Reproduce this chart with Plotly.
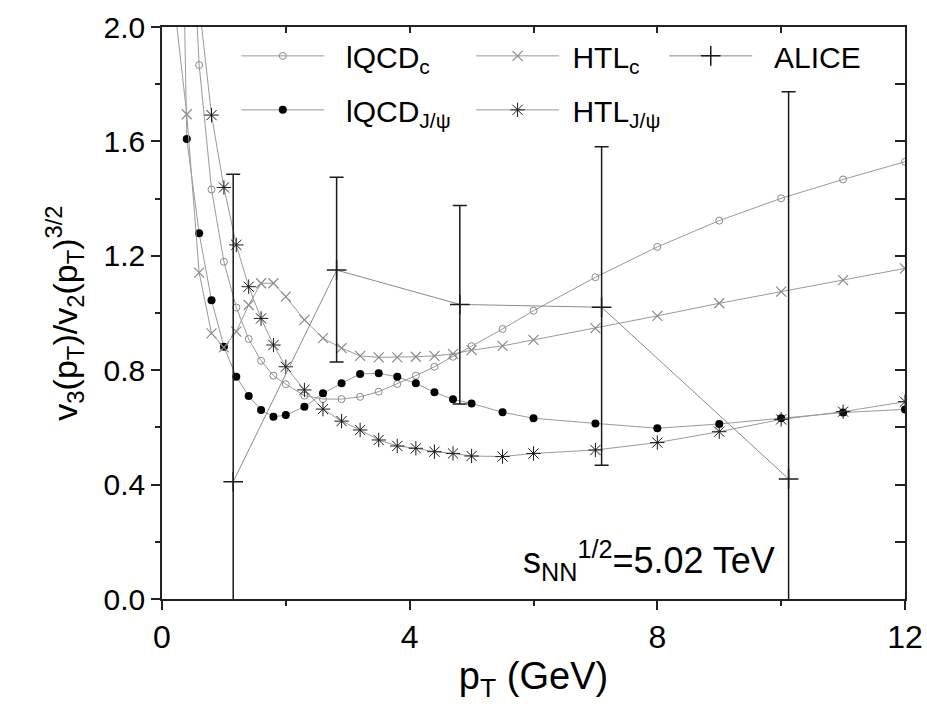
import plotly.graph_objects as go

# ---------------- data ----------------
pt = [0.2, 0.4, 0.6, 0.8, 1.0, 1.2, 1.4, 1.6, 1.8, 2.0, 2.3, 2.6, 2.9, 3.2,
      3.5, 3.8, 4.1, 4.4, 4.7, 5.0, 5.5, 6.0, 7.0, 8.0, 9.0, 10.0, 11.0, 12.0]

lqcd_c = [4.50, 2.75, 1.867, 1.432, 1.179, 1.019, 0.909, 0.833, 0.781, 0.751,
          0.711, 0.699, 0.699, 0.707, 0.725, 0.752, 0.781, 0.812, 0.847, 0.884,
          0.944, 1.008, 1.125, 1.231, 1.323, 1.401, 1.467, 1.529]

htl_c = [2.08, 1.695, 1.141, 0.929, 0.880, 0.935, 1.028, 1.104, 1.104, 1.057,
         0.976, 0.912, 0.877, 0.850, 0.845, 0.845, 0.847, 0.850, 0.857, 0.870,
         0.885, 0.906, 0.947, 0.990, 1.034, 1.075, 1.115, 1.156]

lqcd_jpsi = [4.00, 1.608, 1.279, 1.045, 0.882, 0.777, 0.710, 0.661, 0.637, 0.643,
             0.672, 0.719, 0.754, 0.787, 0.789, 0.777, 0.754, 0.723, 0.698, 0.684,
             0.653, 0.632, 0.614, 0.597, 0.612, 0.632, 0.652, 0.663]

htl_jpsi = [3.60, 2.60, 2.08, 1.692, 1.439, 1.238, 1.092, 0.981, 0.888, 0.812,
            0.731, 0.664, 0.622, 0.591, 0.556, 0.535, 0.527, 0.515, 0.509, 0.500,
            0.498, 0.509, 0.521, 0.547, 0.585, 0.628, 0.655, 0.690]

alice_pt = [1.15, 2.82, 4.81, 7.10, 10.12]
alice_ratio = [0.41, 1.15, 1.03, 1.02, 0.42]
alice_upper = [1.485, 1.475, 1.376, 1.581, 1.774]
alice_lower = [-0.30, 0.829, 0.682, 0.468, -0.25]

x_ticks = [0, 4, 8, 12]
y_ticks = [0.0, 0.4, 0.8, 1.2, 1.6, 2.0]

# ---------------- styling ----------------
FONT = "Liberation Sans, Arial, sans-serif"
LINE_GRAY = "#9a9a9a"
MARK_GRAY = "#8a8a8a"
INK = "#1a1a1a"

err_plus = [u - v for u, v in zip(alice_upper, alice_ratio)]
err_minus = [v - l for v, l in zip(alice_ratio, alice_lower)]

fig = go.Figure()

fig.add_trace(go.Scatter(
    x=pt, y=lqcd_c, mode="lines+markers", name="\u00a0\u00a0lQCD<sub>c</sub>",
    line=dict(color=LINE_GRAY, width=1),
    marker=dict(symbol="circle-open", size=7, color=MARK_GRAY, line=dict(width=1, color=MARK_GRAY)),
    legend="legend", legendgroup="a"))

fig.add_trace(go.Scatter(
    x=pt, y=lqcd_jpsi, mode="lines+markers", name="\u00a0\u00a0lQCD<sub>J/\u03c8</sub>",
    line=dict(color=LINE_GRAY, width=1),
    marker=dict(symbol="circle", size=8, color="#000000"),
    legend="legend", legendgroup="b"))

fig.add_trace(go.Scatter(
    x=pt, y=htl_c, mode="lines+markers", name="\u00a0HTL<sub>c</sub>",
    line=dict(color=LINE_GRAY, width=1),
    marker=dict(symbol="x-thin", size=10, color=MARK_GRAY, line=dict(width=1.2, color=MARK_GRAY)),
    legend="legend2", legendgroup="c"))

fig.add_trace(go.Scatter(
    x=pt, y=htl_jpsi, mode="lines+markers", name="\u00a0HTL<sub>J/\u03c8</sub>",
    line=dict(color=LINE_GRAY, width=1),
    marker=dict(symbol="asterisk", size=12, color=INK, line=dict(width=1.0, color=INK)),
    legend="legend2", legendgroup="d"))

fig.add_trace(go.Scatter(
    x=alice_pt, y=alice_ratio, mode="lines+markers", name="\u00a0\u00a0ALICE",
    line=dict(color="#8a8a8a", width=1),
    marker=dict(symbol="cross-thin", size=14, color=INK, line=dict(width=1.5, color=INK)),
    error_y=dict(type="data", array=err_plus, arrayminus=err_minus, symmetric=False,
                 color=INK, thickness=1.5, width=7),
    legend="legend3", legendgroup="e"))

# empty helper trace so that the mirrored (top / right) tick axes get drawn
fig.add_trace(go.Scatter(x=[], y=[], xaxis="x2", yaxis="y2", showlegend=False,
                         hoverinfo="skip"))

legend_common = dict(
    orientation="v", xanchor="left", yanchor="top", bgcolor="rgba(0,0,0,0)",
    borderwidth=0, font=dict(family=FONT, size=30, color="#000000"),
    itemwidth=83, tracegroupgap=12, traceorder="grouped")

fig.update_layout(
    width=927, height=711,
    margin=dict(l=162, r=22, t=27, b=112, autoexpand=False),
    paper_bgcolor="white", plot_bgcolor="white",
    font=dict(family=FONT, color="#000000"),
    xaxis=dict(
        range=[0, 12], tickvals=x_ticks, ticktext=[str(v) for v in x_ticks],
        ticks="outside", ticklen=9, tickwidth=1.5, tickcolor="#222",
        minor=dict(tickvals=[2, 6, 10], ticks="outside", ticklen=5, tickwidth=1.5, tickcolor="#222"),
        showline=True, linecolor="#222", linewidth=1.5, mirror=True,
        showgrid=False, zeroline=False, automargin=False,
        tickfont=dict(family=FONT, size=32, color="#000"),
        title=dict(text="p<sub>T</sub> (GeV)", font=dict(family=FONT, size=38, color="#000"), standoff=8),
    ),
    yaxis=dict(
        range=[0, 2], tickvals=y_ticks, ticktext=[f"{v:.1f}" for v in y_ticks],
        ticks="outside", ticklen=9, tickwidth=1.5, tickcolor="#222",
        minor=dict(dtick=0.2, ticks="outside", ticklen=5, tickwidth=1.5, tickcolor="#222"),
        showline=True, linecolor="#222", linewidth=1.5, mirror=True,
        showgrid=False, zeroline=False, automargin=False,
        tickfont=dict(family=FONT, size=30, color="#000"),
        title=dict(text="v<sub>3</sub>(p<sub>T</sub>)/v<sub>2</sub>(p<sub>T</sub>)<sup>3/2</sup>",
                   font=dict(family=FONT, size=34, color="#000"), standoff=16),
    ),
    xaxis2=dict(
        overlaying="x", side="top", anchor="y2", range=[0, 12],
        tickvals=[2, 4, 6, 8, 10], ticks="inside", ticklen=6, tickwidth=1.5, tickcolor="#222",
        showticklabels=False, showline=False, showgrid=False, zeroline=False, automargin=False),
    yaxis2=dict(
        overlaying="y", side="right", anchor="x2", range=[0, 2],
        dtick=0.2, tick0=0, ticks="inside", ticklen=10, tickwidth=1.5, tickcolor="#222",
        showticklabels=False, showline=False, showgrid=False, zeroline=False, automargin=False),
    legend=dict(x=0.100, y=0.995, **legend_common),
    legend2=dict(x=0.416, y=0.995, **legend_common),
    legend3=dict(x=0.676, y=0.995, **legend_common),
    annotations=[dict(
        x=9.93, y=0.037, xref="x", yref="y", xanchor="right", yanchor="bottom",
        text="s<sub>NN</sub><sup>1/2</sup>=5.02 TeV", showarrow=False,
        font=dict(family=FONT, size=36, color="#000"))],
)

fig.write_html("out.html", config={"displayModeBar": False},
               post_script="document.body.style.margin='0';")
